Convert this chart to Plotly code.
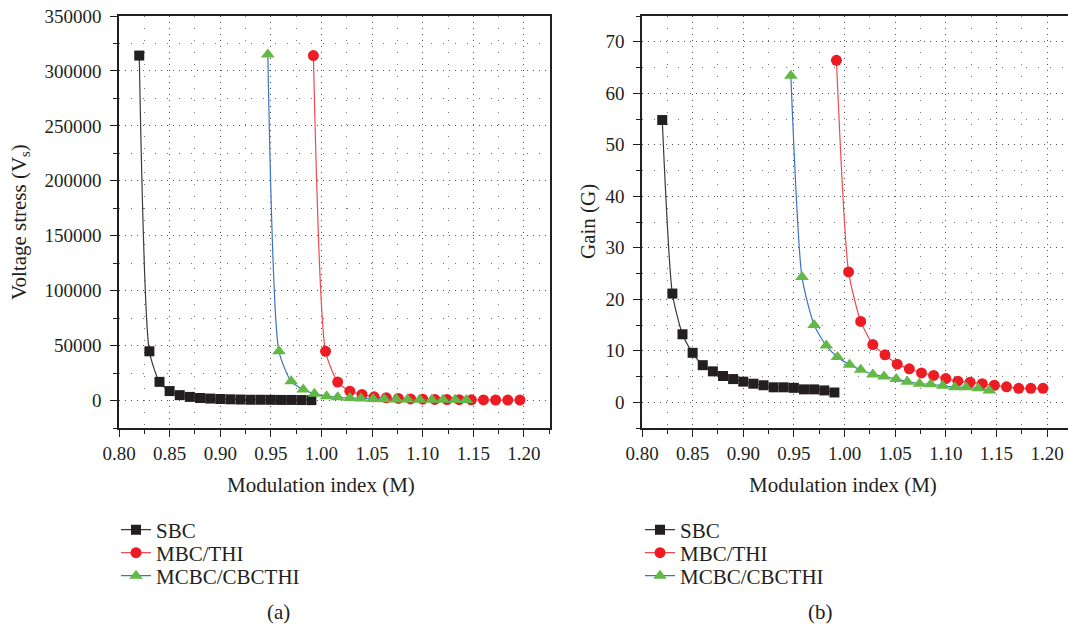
import plotly.graph_objects as go

# Modulation index values for each control scheme
m_sbc = [0.82, 0.83, 0.84, 0.85, 0.86, 0.87, 0.88, 0.89, 0.90,
         0.91, 0.92, 0.93, 0.94, 0.95, 0.96, 0.97, 0.98, 0.99]
m_mbc = [0.992, 1.004, 1.016, 1.028, 1.040, 1.052, 1.064, 1.076, 1.088,
         1.100, 1.112, 1.124, 1.136, 1.148, 1.160, 1.172, 1.184, 1.196]
m_mcbc = [0.947, 0.958, 0.970, 0.982, 0.993, 1.005, 1.016, 1.028, 1.039,
          1.051, 1.062, 1.074, 1.085, 1.097, 1.109, 1.120, 1.132, 1.143]

# (a) Voltage stress
v_sbc = [314000, 44800, 17000, 8600, 4900, 3300, 2300, 1800, 1400,
         1100, 900, 700, 700, 650, 550, 550, 450, 350]
v_mbc = [314000, 44800, 16800, 8500, 5500, 3400, 2500, 1900, 1500,
         1200, 1000, 850, 750, 650, 550, 480, 420, 380]
v_mcbc = [315000, 44800, 17500, 10000, 6100, 4000, 3000, 2400, 1900,
          1500, 1200, 1000, 900, 800, 700, 650, 600, 550]

# (b) Gain
g_sbc = [54.8, 21.1, 13.2, 9.6, 7.2, 6.0, 5.1, 4.5, 4.0,
         3.6, 3.3, 2.9, 2.9, 2.8, 2.5, 2.5, 2.3, 1.9]
g_mbc = [66.4, 25.3, 15.7, 11.2, 9.2, 7.4, 6.5, 5.7, 5.2,
         4.6, 4.1, 3.9, 3.6, 3.3, 3.0, 2.7, 2.7, 2.7]
g_mcbc = [63.4, 24.3, 15.0, 11.0, 8.8, 7.3, 6.3, 5.4, 5.0,
          4.5, 4.0, 3.6, 3.5, 3.2, 2.9, 2.9, 2.7, 2.3]

series_names = ["SBC", "MBC/THI", "MCBC/CBCTHI"]

W, H = 1068, 630
FONT = "Liberation Serif"
TXT = "#231f20"

styles = [
    dict(line=dict(color="#3a3a3a", width=1.2),
         marker=dict(symbol="square", size=10, color="#231f20")),
    dict(line=dict(color="#ef4a50", width=1.2),
         marker=dict(symbol="circle", size=11, color="#ed1c24")),
    dict(line=dict(color="#3b73c4", width=1.2),
         marker=dict(symbol="triangle-up", size=12, color="#62b946")),
]


def px(v):
    return v / W


def py(v):
    return 1 - v / H


fig = go.Figure()

# each panel gets one single-entry legend per series so rows sit tightly
legend_rows = [530, 553, 576]
panels = [
    ("x", "y", ["legend", "legend2", "legend3"], 116, [v_sbc, v_mbc, v_mcbc]),
    ("x2", "y2", ["legend4", "legend5", "legend6"], 640, [g_sbc, g_mbc, g_mcbc]),
]
legend_layout = {}
for xa, ya, lgs, lx, ys in panels:
    for name, mx, yv, st, lg, ly in zip(series_names, [m_sbc, m_mbc, m_mcbc],
                                        ys, styles, lgs, legend_rows):
        fig.add_trace(go.Scatter(
            x=mx, y=yv, name=name, mode="lines+markers",
            line=dict(shape="spline", smoothing=0.6, **st["line"]),
            marker=st["marker"], xaxis=xa, yaxis=ya, legend=lg,
            cliponaxis=False,
        ))
        legend_layout[lg] = dict(
            x=px(lx), y=py(ly), xanchor="left", yanchor="middle",
            bgcolor="rgba(0,0,0,0)", borderwidth=0,
            font=dict(family=FONT, size=21, color=TXT),
        )

grid_major = dict(showgrid=True, gridcolor="#555555", gridwidth=1, griddash="1px,5px")
axis_common = dict(
    showline=True, linecolor="#231f20", linewidth=1.5, mirror=True,
    ticks="outside", ticklen=7, tickwidth=1.2, tickcolor="#231f20",
    tickfont=dict(family=FONT, size=19, color=TXT),
    zeroline=False, automargin=False, **grid_major,
)


def xaxis(domain, rng, anchor):
    return dict(
        domain=domain, range=rng, anchor=anchor,
        tick0=0.8, dtick=0.05, tickformat=".2f",
        minor=dict(dtick=0.025, ticks="outside", ticklen=4, tickcolor="#231f20",
                   showgrid=True, gridcolor="#777777", griddash="1px,11px"),
        **axis_common,
    )


def yaxis(domain, rng, dtick, anchor):
    return dict(
        domain=domain, range=rng, anchor=anchor, tick0=0, dtick=dtick,
        tickformat="d", ticklabelstandoff=5,
        minor=dict(dtick=dtick / 2, ticks="outside", ticklen=4, tickcolor="#231f20",
                   showgrid=True, gridcolor="#777777", griddash="1px,11px"),
        **axis_common,
    )


ydom = [py(428), py(16)]
fig.update_layout(
    width=W, height=H,
    margin=dict(l=0, r=0, t=0, b=0),
    paper_bgcolor="white", plot_bgcolor="white",
    font=dict(family=FONT, color=TXT),
    xaxis=xaxis([px(119), px(550)], [0.8, 1.2257], "y"),
    yaxis=yaxis(ydom, [-25000, 350000], 50000, "x"),
    xaxis2=xaxis([px(642), 1.0], [0.8, 1.2207], "y2"),
    yaxis2=yaxis(ydom, [-5, 75], 10, "x2"),
    showlegend=True,
    **legend_layout,
)

annotations = [
    dict(text="Modulation index (M)", x=px(321), y=py(485)),
    dict(text="Modulation index (M)", x=px(843), y=py(485)),
    dict(text="Voltage stress (V<sub>s</sub>)", x=px(20), y=py(222), textangle=-90),
    dict(text="Gain (G)", x=px(588), y=py(222), textangle=-90),
    dict(text="(a)", x=px(278), y=py(612)),
    dict(text="(b)", x=px(820), y=py(612)),
]
for a in annotations:
    fig.add_annotation(xref="paper", yref="paper", showarrow=False,
                       xanchor="center", yanchor="middle",
                       font=dict(family=FONT, size=21, color=TXT), **a)

fig.write_html("out.html")
